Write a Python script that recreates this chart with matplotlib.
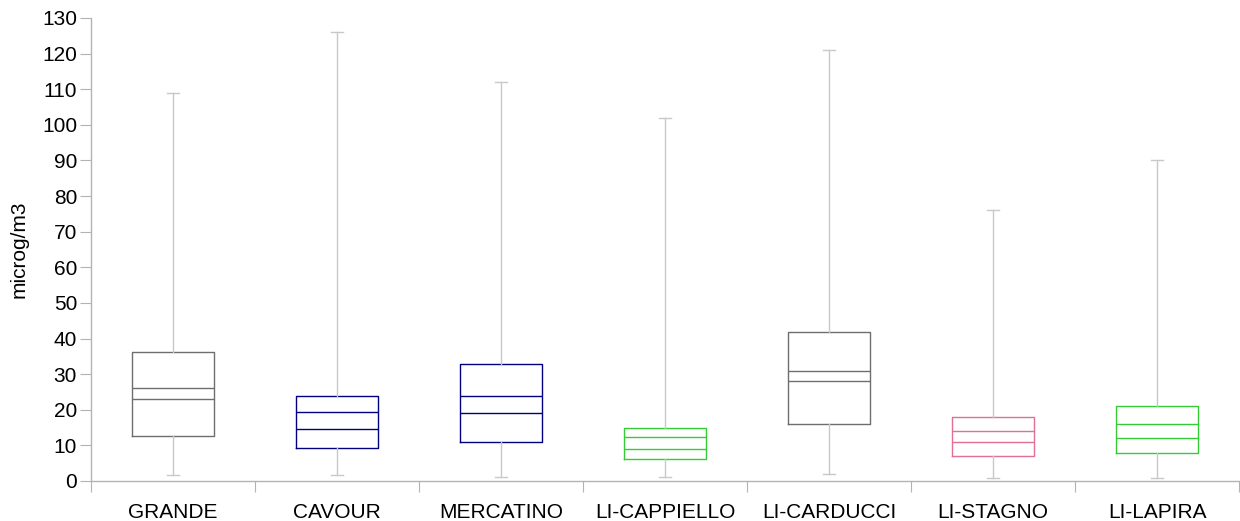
import matplotlib
matplotlib.use("Agg")
import matplotlib.pyplot as plt
from matplotlib.ticker import FixedLocator, NullFormatter, FixedFormatter

plt.rcParams['font.family'] = ['Liberation Sans', 'DejaVu Sans']

categories = ["GRANDE", "CAVOUR", "MERCATINO", "LI-CAPPIELLO", "LI-CARDUCCI", "LI-STAGNO", "LI-LAPIRA"]
whisker_low = [1.7, 1.7, 1.1, 1.1, 2.1, 0.9, 0.9]
q1 = [12.7, 9.2, 11.0, 6.1, 16.0, 7.0, 8.0]
line_low = [23.0, 14.7, 19.1, 9.0, 28.0, 10.9, 12.0]
line_high = [26.2, 19.3, 23.8, 12.4, 30.8, 13.9, 16.0]
q3 = [36.1, 24.0, 32.9, 15.0, 41.8, 18.0, 21.0]
whisker_high = [109, 126, 112, 102, 121, 76, 90]
colors = ["#6e6e6e", "#000080", "#000080", "#33cc33", "#6e6e6e", "#e07098", "#33cc33"]

fig = plt.figure(figsize=(12.4, 5.21), dpi=100)
ax = fig.add_axes([91/1240, 1-481/521, 1148/1240, 463/521])

for i in range(len(categories)):
    stats = [dict(med=line_low[i], mean=line_high[i], q1=q1[i], q3=q3[i],
                  whislo=whisker_low[i], whishi=whisker_high[i], fliers=[])]
    c = colors[i]
    ax.bxp(stats, positions=[i], widths=0.5, showmeans=True, meanline=True,
           showfliers=False,
           boxprops=dict(color=c, linewidth=1.0),
           medianprops=dict(color=c, linewidth=1.0),
           meanprops=dict(color=c, linewidth=1.0, linestyle='-'),
           whiskerprops=dict(color="#c8c8c8", linewidth=1.0),
           capprops=dict(color="#c8c8c8", linewidth=1.0),
           capwidths=0.075)

ax.set_xlim(-0.5, len(categories) - 0.5)
ax.set_ylim(0, 130)
ax.set_yticks(range(0, 131, 10))
ax.xaxis.set_major_locator(FixedLocator([i - 0.5 for i in range(len(categories) + 1)]))
ax.xaxis.set_major_formatter(NullFormatter())
ax.xaxis.set_minor_locator(FixedLocator(list(range(len(categories)))))
ax.xaxis.set_minor_formatter(FixedFormatter(categories))
ax.tick_params(axis='x', which='major', length=8, color="#b3b3b3", direction='out')
ax.tick_params(axis='x', which='minor', length=0, labelsize=15, pad=15.5, colors='black')
ax.tick_params(axis='y', length=8, color="#b3b3b3", labelsize=15, pad=2)

for s in ['top', 'right']:
    ax.spines[s].set_visible(False)
for s in ['left', 'bottom']:
    ax.spines[s].set_color("#b3b3b3")
    ax.spines[s].set_linewidth(1.0)

ax.set_ylabel("microg/m3", fontsize=15)
ax.yaxis.set_label_coords((29 - 91) / 1148, 0.5)

fig.savefig("out.png", dpi=100)
